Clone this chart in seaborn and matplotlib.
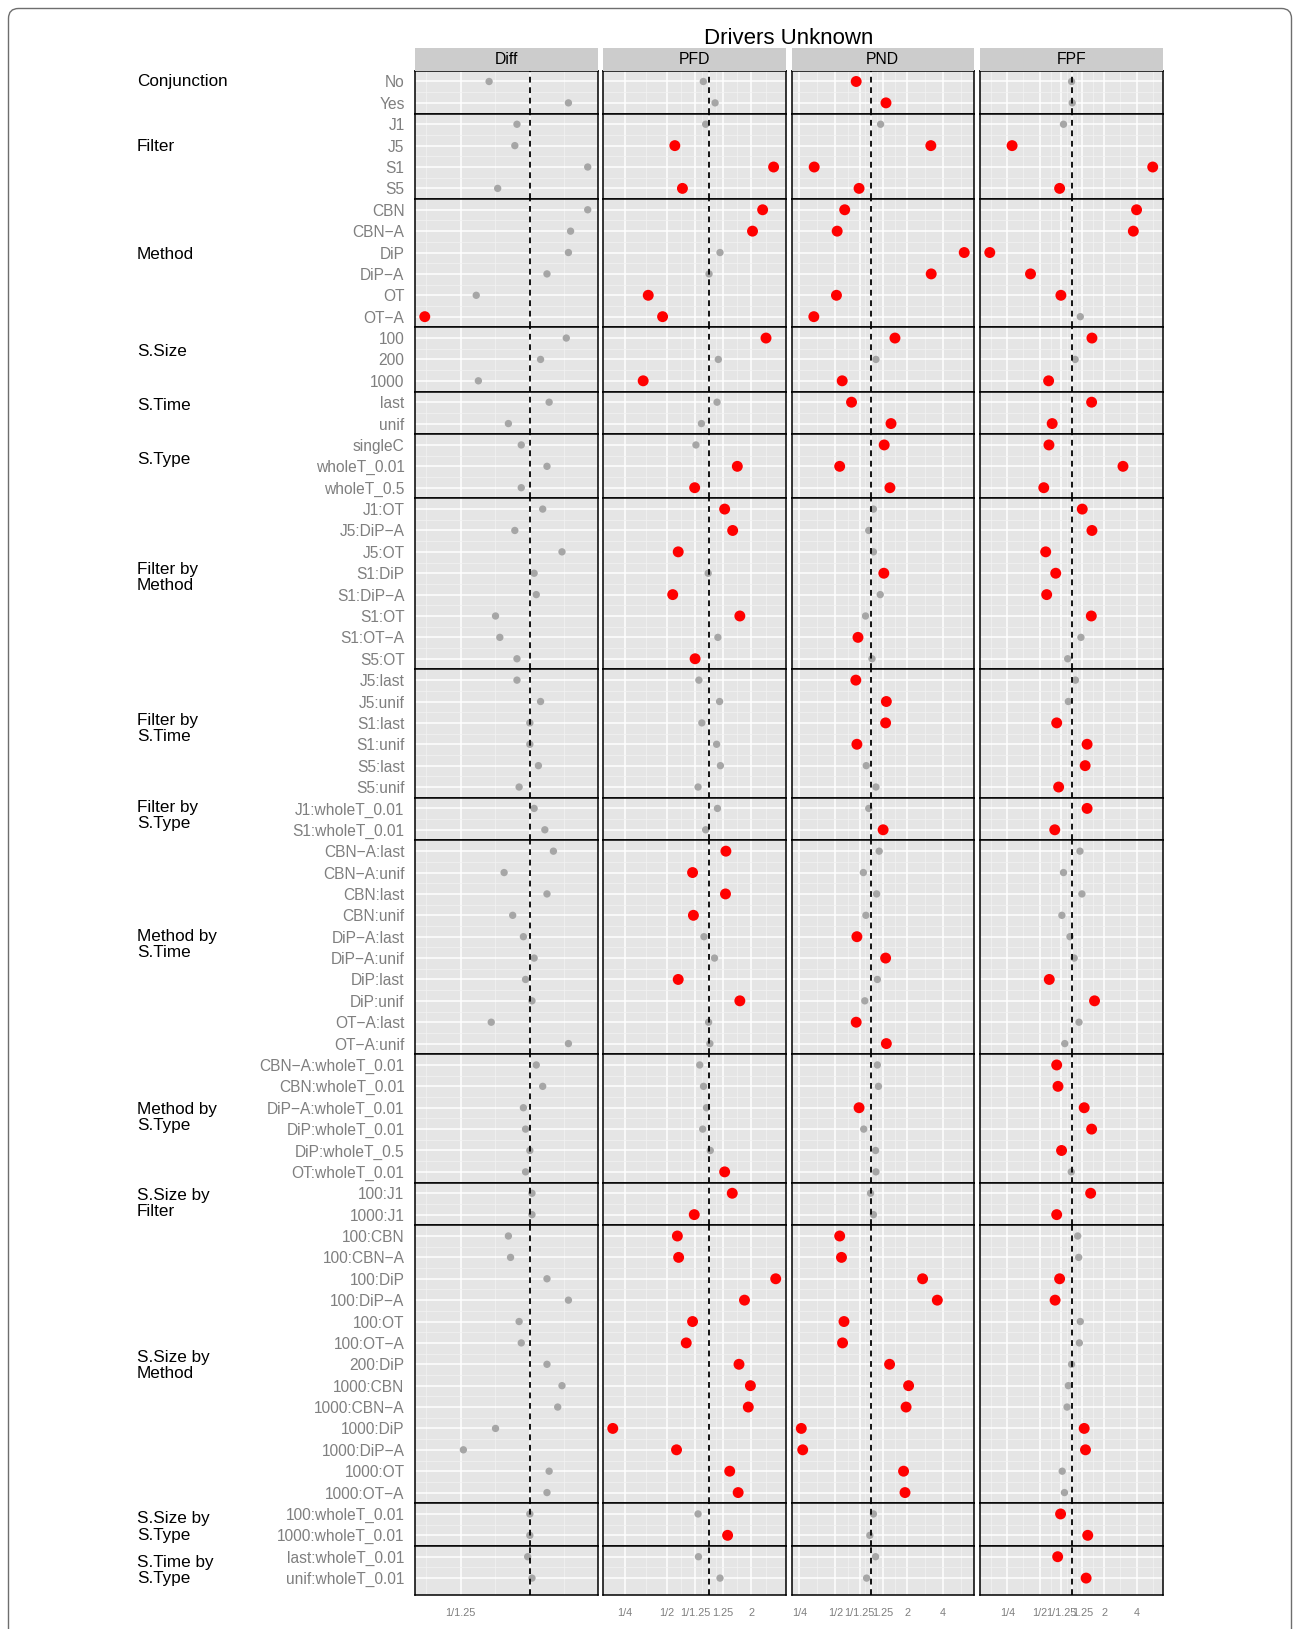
import numpy as np
import pandas as pd
import matplotlib
matplotlib.use("Agg")
import matplotlib.pyplot as plt
import seaborn as sns
from matplotlib.patches import FancyBboxPatch, Rectangle
from matplotlib.transforms import IdentityTransform
from matplotlib.ticker import NullFormatter

M = "\u2212"

# ---------------- data ----------------
groups = ["Conjunction", "Filter", "Method", "S.Size", "S.Time", "S.Type",
          "Filter by\nMethod", "Filter by\nS.Time", "Filter by\nS.Type",
          "Method by\nS.Time", "Method by\nS.Type", "S.Size by\nFilter",
          "S.Size by\nMethod", "S.Size by\nS.Type", "S.Time by\nS.Type"]
group_sizes = [2, 4, 6, 3, 2, 3, 8, 6, 2, 10, 6, 2, 13, 2, 2]

terms = ["No", "Yes",
         "J1", "J5", "S1", "S5",
         "CBN", f"CBN{M}A", "DiP", f"DiP{M}A", "OT", f"OT{M}A",
         "100", "200", "1000",
         "last", "unif",
         "singleC", "wholeT_0.01", "wholeT_0.5",
         "J1:OT", f"J5:DiP{M}A", "J5:OT", "S1:DiP", f"S1:DiP{M}A", "S1:OT", f"S1:OT{M}A", "S5:OT",
         "J5:last", "J5:unif", "S1:last", "S1:unif", "S5:last", "S5:unif",
         "J1:wholeT_0.01", "S1:wholeT_0.01",
         f"CBN{M}A:last", f"CBN{M}A:unif", "CBN:last", "CBN:unif", f"DiP{M}A:last",
         f"DiP{M}A:unif", "DiP:last", "DiP:unif", f"OT{M}A:last", f"OT{M}A:unif",
         f"CBN{M}A:wholeT_0.01", "CBN:wholeT_0.01", f"DiP{M}A:wholeT_0.01",
         "DiP:wholeT_0.01", "DiP:wholeT_0.5", "OT:wholeT_0.01",
         "100:J1", "1000:J1",
         "100:CBN", f"100:CBN{M}A", "100:DiP", f"100:DiP{M}A", "100:OT", f"100:OT{M}A",
         "200:DiP", "1000:CBN", f"1000:CBN{M}A", "1000:DiP", f"1000:DiP{M}A", "1000:OT", f"1000:OT{M}A",
         "100:wholeT_0.01", "1000:wholeT_0.01",
         "last:wholeT_0.01", "unif:wholeT_0.01"]

measures = ["Diff", "PFD", "PND", "FPF"]

# log2 of the ratio shown on each panel
diff_log2 = [-0.19, 0.18,
             -0.06, -0.07, 0.27, -0.15,
             0.27, 0.19, 0.18, 0.08, -0.25, -0.49,
             0.17, 0.05, -0.24,
             0.09, -0.10,
             -0.04, 0.08, -0.04,
             0.06, -0.07, 0.15, 0.02, 0.03, -0.16, -0.14, -0.06,
             -0.06, 0.05, 0.00, 0.00, 0.04, -0.05,
             0.02, 0.07,
             0.11, -0.12, 0.08, -0.08, -0.03, 0.02, -0.02, 0.01, -0.18, 0.18,
             0.03, 0.06, -0.03, -0.02, 0.00, -0.02,
             0.01, 0.01,
             -0.10, -0.09, 0.08, 0.18, -0.05, -0.04, 0.08, 0.15, 0.13, -0.16, -0.31, 0.09, 0.08,
             0.00, 0.00,
             -0.01, 0.01]
diff_sig = [0] * 71
diff_sig[11] = 1

pfd_log2 = [-0.135, 0.143,
            -0.08, -0.81, 1.53, -0.63,
            1.27, 1.03, 0.26, 0.00, -1.44, -1.10,
            1.35, 0.22, -1.56,
            0.19, -0.18,
            -0.31, 0.67, -0.34,
            0.37, 0.56, -0.73, -0.02, -0.86, 0.73, 0.21, -0.33,
            -0.24, 0.25, -0.17, 0.18, 0.27, -0.26,
            0.20, -0.08,
            0.40, -0.39, 0.39, -0.37, -0.12, 0.13, -0.73, 0.73, -0.01, 0.02,
            -0.22, -0.13, -0.06, -0.15, 0.03, 0.37,
            0.55, -0.35,
            -0.75, -0.72, 1.58, 0.84, -0.39, -0.54, 0.71, 0.98, 0.93, -2.28, -0.77, 0.49, 0.69,
            -0.26, 0.44,
            -0.25, 0.26]
pfd_sig = [0, 0,
           0, 1, 1, 1,
           1, 1, 0, 0, 1, 1,
           1, 0, 1,
           0, 0,
           0, 1, 1,
           1, 1, 1, 0, 1, 1, 0, 1,
           0, 0, 0, 0, 0, 0,
           0, 0,
           1, 1, 1, 1, 0, 0, 1, 1, 0, 0,
           0, 0, 0, 0, 0, 1,
           1, 1,
           1, 1, 1, 1, 1, 1, 1, 1, 1, 1, 1, 1, 1,
           0, 1,
           0, 0]

pnd_log2 = [-0.42, 0.41,
            0.26, 1.66, -1.59, -0.34,
            -0.74, -0.95, 2.59, 1.67, -0.97, -1.60,
            0.66, 0.13, -0.81,
            -0.55, 0.55,
            0.36, -0.88, 0.52,
            0.06, -0.07, 0.06, 0.35, 0.25, -0.16, -0.37, 0.02,
            -0.43, 0.42, 0.40, -0.40, -0.14, 0.13,
            -0.07, 0.33,
            0.22, -0.22, 0.15, -0.15, -0.40, 0.40, 0.17, -0.18, -0.42, 0.42,
            0.17, 0.20, -0.34, -0.21, 0.12, 0.13,
            -0.02, 0.06,
            -0.88, -0.83, 1.43, 1.84, -0.76, -0.80, 0.51, 1.04, 0.97, -1.95, -1.91, 0.90, 0.94,
            0.06, -0.04,
            0.12, -0.13]
pnd_sig = [1, 1,
           0, 1, 1, 1,
           1, 1, 1, 1, 1, 1,
           1, 0, 1,
           1, 1,
           1, 1, 1,
           0, 0, 0, 1, 0, 0, 1, 0,
           1, 1, 1, 1, 0, 0,
           0, 1,
           0, 0, 0, 0, 1, 1, 0, 0, 1, 1,
           0, 0, 1, 0, 0, 0,
           0, 0,
           1, 1, 1, 1, 1, 1, 1, 1, 1, 1, 1, 1, 1,
           0, 0,
           0, 0]

fpf_log2 = [-0.01, 0.01,
            -0.26, -1.85, 2.50, -0.38,
            2.00, 1.90, -2.54, -1.28, -0.34, 0.26,
            0.62, 0.10, -0.72,
            0.61, -0.61,
            -0.71, 1.58, -0.87,
            0.32, 0.62, -0.81, -0.50, -0.78, 0.60, 0.28, -0.13,
            0.11, -0.11, -0.47, 0.47, 0.41, -0.41,
            0.47, -0.53,
            0.25, -0.26, 0.31, -0.31, -0.06, 0.07, -0.70, 0.70, 0.22, -0.22,
            -0.47, -0.43, 0.38, 0.61, -0.32, -0.02,
            0.58, -0.47,
            0.18, 0.21, -0.38, -0.52, 0.26, 0.23, -0.01, -0.11, -0.15, 0.38, 0.42, -0.30, -0.23,
            -0.35, 0.49,
            -0.44, 0.44]
fpf_sig = [0, 0,
           0, 1, 1, 1,
           1, 1, 1, 1, 1, 0,
           1, 0, 1,
           1, 1,
           1, 1, 1,
           1, 1, 1, 1, 1, 1, 0, 0,
           0, 0, 1, 1, 1, 1,
           1, 1,
           0, 0, 0, 0, 0, 0, 1, 1, 0, 0,
           1, 1, 1, 1, 1, 0,
           1, 1,
           0, 0, 1, 1, 0, 0, 0, 0, 0, 1, 1, 0, 0,
           1, 1,
           1, 1]

break_log2 = [-2, -1, np.log2(0.8), 0, np.log2(1.25), 1, 2]
break_labels = ["1/4", "1/2", "1/1.25", "", "1.25", "2", "4"]

# ---------------- table ----------------
grp_of, pos_of = [], []
for g, n in zip(groups, group_sizes):
    for k in range(n):
        grp_of.append(g)
        pos_of.append(k)

rows = []
for m, vals, sig in zip(measures, [diff_log2, pfd_log2, pnd_log2, fpf_log2],
                        [diff_sig, pfd_sig, pnd_sig, fpf_sig]):
    for i, t in enumerate(terms):
        rows.append(dict(term=t, group=grp_of[i], pos=pos_of[i], measure=m,
                         log2=vals[i], sig="sig" if sig[i] else "ns"))
df = pd.DataFrame(rows)
df["ratio"] = 2.0 ** df["log2"]

# ---------------- figure ----------------
sns.set_style("white")
plt.rcParams["font.family"] = ["Liberation Sans", "DejaVu Sans"]

W, H = 1294, 1629
fig = plt.figure(figsize=(W / 100, H / 100), dpi=100)
fig.patch.set_facecolor("white")

panel_left = [415, 603, 791.5, 980]
panel_w = 182.5
top_px = 70.8
rowh = 21.38
bot_px = 1594.5
GREY_TXT = "#7F7F7F"

# x limits per column
xlims = {}
for m in measures:
    v = df.loc[df.measure == m, "log2"]
    lo, hi = v.min(), v.max()
    r = hi - lo
    xlims[m] = (lo - 0.06 * r, hi + 0.06 * r)


def minor_breaks(lo, hi):
    b = [x for x in break_log2 if lo <= x <= hi]
    if lo < b[0]:
        b = [b[0] - (b[1] - b[0])] + b
    if hi > b[-1]:
        b = b + [b[-1] + (b[-1] - b[-2])]
    mids = [(a + c) / 2 for a, c in zip(b[:-1], b[1:])]
    return [x for x in mids if lo <= x <= hi]


start = 0
ngroups = len(groups)
for gi, (g, n) in enumerate(zip(groups, group_sizes)):
    y0 = top_px + start * rowh
    h = n * rowh
    extra = 0.0
    if gi == ngroups - 1:
        h = bot_px - y0
        extra = h / rowh - n
    for mi, m in enumerate(measures):
        ax = fig.add_axes([panel_left[mi] / W, 1 - (y0 + h) / H, panel_w / W, h / H])
        ax.set_facecolor("#E5E5E5")
        sub = df[(df.group == g) & (df.measure == m)]
        sns.scatterplot(data=sub, x="ratio", y="pos", hue="sig", size="sig",
                        hue_order=["ns", "sig"], size_order=["ns", "sig"],
                        palette={"ns": "#A6A6A6", "sig": "#FF0000"},
                        sizes={"ns": 28, "sig": 62}, linewidth=0,
                        legend=False, ax=ax, zorder=3)
        ax.set_xscale("log", base=2)
        lo, hi = xlims[m]
        ax.set_xlim(2 ** lo, 2 ** hi)
        ax.set_ylim(n - 0.5 + extra, -0.5)

        bl = [(b, l) for b, l in zip(break_log2, break_labels) if lo <= b <= hi]
        ax.set_xticks([2 ** b for b, _ in bl])
        ax.set_xticklabels([l for _, l in bl])
        ax.set_xticks([2 ** b for b in minor_breaks(lo, hi)], minor=True)
        ax.xaxis.set_minor_formatter(NullFormatter())

        ax.set_yticks(range(n))
        ax.set_yticklabels(terms[start:start + n])
        ax.set_yticks(np.arange(n - 1) + 0.5, minor=True)

        ax.grid(which="major", color="white", linewidth=1.1, zorder=0)
        ax.grid(which="minor", color="#F2F2F2", linewidth=0.55, zorder=0)
        ax.set_axisbelow(True)

        ax.axvline(1.0, color="black", linestyle=(0, (3.2, 2.6)), linewidth=1.3, zorder=4)

        for s in ax.spines.values():
            s.set_color("black")
            s.set_linewidth(1.1)
            s.set_visible(True)

        ax.set_xlabel("")
        ax.set_ylabel("")
        ax.tick_params(which="minor", length=0)
        ax.tick_params(axis="x", which="major", length=0, labelbottom=False)
        ax.tick_params(axis="y", which="major", length=0, labelleft=False)
        if mi == 0:
            ax.tick_params(axis="y", which="major", length=4.5, width=0.8,
                           color=GREY_TXT, labelleft=True, labelsize=11.2,
                           labelcolor=GREY_TXT, pad=3)
        if gi == ngroups - 1:
            ax.tick_params(axis="x", which="major", length=4.5, width=0.8,
                           color=GREY_TXT, labelbottom=True, labelsize=7.8,
                           labelcolor=GREY_TXT, pad=5)

        if gi == 0:
            fig.patches.append(Rectangle((panel_left[mi] / W, 1 - top_px / H),
                                         panel_w / W, 23 / H, transform=fig.transFigure,
                                         facecolor="#CCCCCC", edgecolor="none"))
            fig.text((panel_left[mi] + panel_w / 2) / W, 1 - 59.5 / H, m,
                     ha="center", va="center", fontsize=11.3, color="black")

    cen = y0 + n * rowh / 2
    ly = cen - 10.5 + 0.009 * (cen - 92)
    fig.text(137 / W, 1 - ly / H, g, ha="left", va="center", fontsize=12.3,
             color="black", linespacing=1.1)
    start += n

fig.text((panel_left[0] + panel_left[3] + panel_w) / 2 / W, 1 - 38 / H,
         "Drivers Unknown", ha="center", va="center", fontsize=16, color="black")

# outer frame
frame = FancyBboxPatch((8.5, -60), 1283, H - 8.5 + 60,
                       boxstyle="round,pad=0,rounding_size=10",
                       transform=IdentityTransform(), fill=False,
                       edgecolor="#6E6E6E", linewidth=1.0)
fig.patches.append(frame)

fig.savefig("out.png", dpi=100, facecolor="white")
